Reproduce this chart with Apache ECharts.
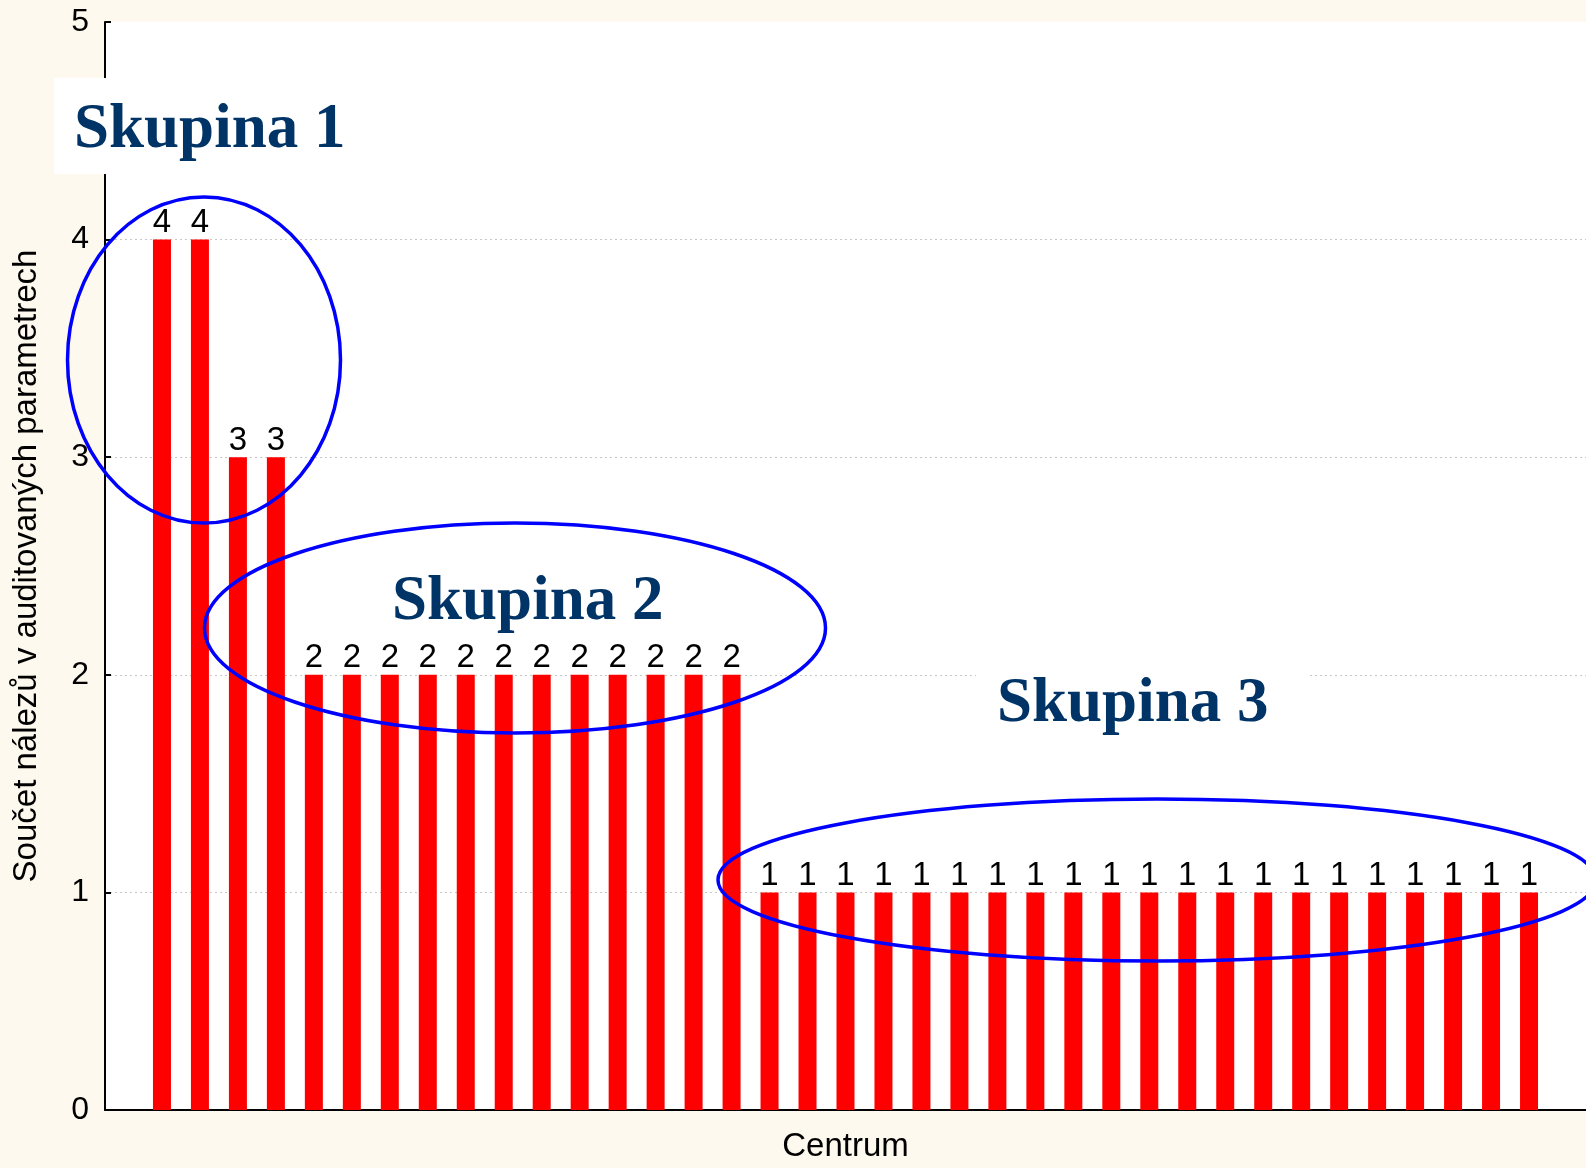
<!DOCTYPE html>
<html>
<head>
<meta charset="utf-8">
<script src="https://cdn.jsdelivr.net/npm/echarts@6/dist/echarts.min.js"></script>
<style>
html,body{margin:0;padding:0;background:#fef9ee;}
#chart{width:1586px;height:1168px;}
</style>
</head>
<body>
<div id="chart"></div>
<script>
// Categories: one per centre, padded with an empty slot at each end
const categories = ['', 'C1','C2','C3','C4','C5','C6','C7','C8','C9','C10','C11','C12','C13','C14','C15','C16',
  'C17','C18','C19','C20','C21','C22','C23','C24','C25','C26','C27','C28','C29','C30','C31','C32','C33','C34','C35','C36','C37', ''];
const values = [null, 4,4,3,3, 2,2,2,2,2,2,2,2,2,2,2,2,
  1,1,1,1,1,1,1,1,1,1,1,1,1,1,1,1,1,1,1,1,1, null];
const yTicks = [0,1,2,3,4,5];
const groupLabels = ['Skupina 1','Skupina 2','Skupina 3'];
const yName = 'Součet nálezů v auditovaných parametrech';
const xName = 'Centrum';

const chart = echarts.init(document.getElementById('chart'), null, {renderer:'canvas'});
const sans = 'Liberation Sans, Arial, sans-serif';
const serif = 'Liberation Serif, Times New Roman, serif';
const navy = '#003366';
const blue = '#0000ff';

chart.setOption({
  backgroundColor: '#fef9ee',
  animation: false,
  grid: {left:105, right:0, top:22, bottom:56, show:true, backgroundColor:'#ffffff', borderWidth:0},
  xAxis: {
    type:'category', data: categories, boundaryGap:true,
    name: xName, nameLocation:'middle', nameGap:20,
    nameTextStyle:{fontFamily:sans, fontSize:33, color:'#000'},
    axisLine:{show:true, lineStyle:{color:'#000', width:2}},
    axisTick:{show:true, inside:true, length:6, alignWithLabel:true, lineStyle:{color:'#000', width:2},
      interval: function(i){ return i % 2 === 1; }},
    axisLabel:{show:false},
    splitLine:{show:false}
  },
  yAxis: {
    type:'value', min:yTicks[0], max:yTicks[yTicks.length-1], interval:1,
    name: yName, nameLocation:'middle', nameGap:62, nameRotate:90,
    nameTextStyle:{fontFamily:sans, fontSize:33, color:'#000'},
    axisLine:{show:true, lineStyle:{color:'#000', width:2}},
    axisTick:{show:true, inside:true, length:6, lineStyle:{color:'#000', width:2}},
    axisLabel:{fontFamily:sans, fontSize:32, color:'#000', margin:16},
    splitLine:{show:true, showMinLine:false, showMaxLine:false, lineStyle:{color:'#c8c8c8', type:[2,3], width:1}}
  },
  series: [{
    type:'bar', data: values, barWidth:18,
    itemStyle:{color:'#ff0000'},
    label:{show:true, position:'top', distance:0, fontFamily:sans, fontSize:33, color:'#000'}
  }],
  graphic: [
    {type:'rect', z:100, shape:{x:54, y:78, width:331, height:96}, style:{fill:'#fff'}},
    {type:'rect', z:100, shape:{x:976, y:651, width:334, height:96}, style:{fill:'#fff'}},
    {type:'text', z:101, x:74, y:131, style:{text:groupLabels[0], font:'bold 63px ' + serif, fill:navy, verticalAlign:'middle', align:'left'}},
    {type:'text', z:101, x:392, y:603, style:{text:groupLabels[1], font:'bold 63px ' + serif, fill:navy, verticalAlign:'middle', align:'left'}},
    {type:'text', z:101, x:997, y:705, style:{text:groupLabels[2], font:'bold 63px ' + serif, fill:navy, verticalAlign:'middle', align:'left'}},
    {type:'ellipse', z:102, shape:{cx:204, cy:360, rx:136.5, ry:163}, style:{fill:null, stroke:blue, lineWidth:3.5}},
    {type:'ellipse', z:102, shape:{cx:515, cy:628, rx:310.5, ry:105}, style:{fill:null, stroke:blue, lineWidth:3.5}},
    {type:'ellipse', z:102, shape:{cx:1157, cy:880, rx:439, ry:81}, style:{fill:null, stroke:blue, lineWidth:3.5}}
  ]
});
</script>
</body>
</html>
